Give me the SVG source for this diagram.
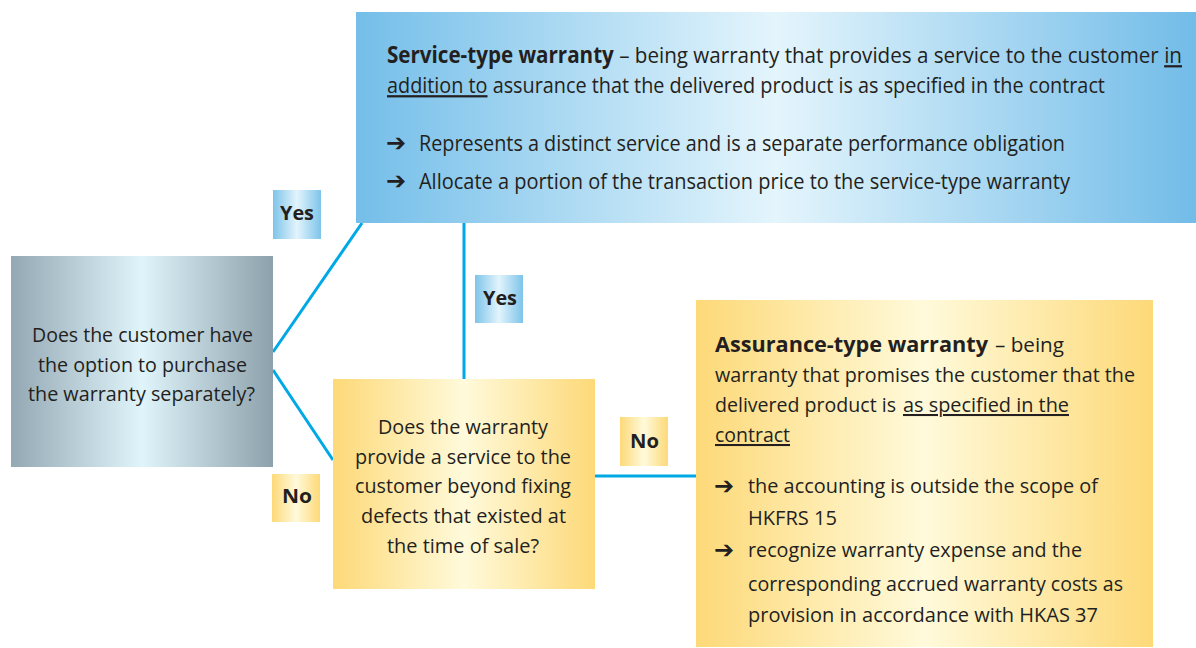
<svg xmlns="http://www.w3.org/2000/svg" width="1196" height="648" viewBox="0 0 1196 648">
<defs>
<linearGradient id="gGrey" x1="0" y1="0" x2="1" y2="0">
<stop offset="0" stop-color="#93a8b3"/>
<stop offset="0.5" stop-color="#e0f4fb"/>
<stop offset="1" stop-color="#8da1ac"/>
</linearGradient>
<linearGradient id="gBlue" x1="0" y1="0" x2="1" y2="0">
<stop offset="0" stop-color="#74bee9"/>
<stop offset="0.5" stop-color="#e4f5fc"/>
<stop offset="1" stop-color="#72bce8"/>
</linearGradient>
<linearGradient id="gYellow" x1="0" y1="0" x2="1" y2="0">
<stop offset="0" stop-color="#fdd978"/>
<stop offset="0.5" stop-color="#fffadb"/>
<stop offset="1" stop-color="#fdd978"/>
</linearGradient>
<linearGradient id="gYes" x1="0" y1="0" x2="1" y2="0">
<stop offset="0" stop-color="#7ec4ea"/>
<stop offset="0.5" stop-color="#e2f4fc"/>
<stop offset="1" stop-color="#7ec4ea"/>
</linearGradient>
</defs>
<style>
text{font-family:"Open Sans","Liberation Sans",sans-serif;fill:#231f20;}
.t{font-size:20.5px;}
.c{font-size:22.5px;}
.b{font-weight:bold;}
.u{text-decoration:underline;}
.arr{font-family:"DejaVu Sans",sans-serif;font-size:24px;font-weight:bold;}
.lbl{font-size:20px;font-weight:bold;text-anchor:middle;}
.mid{text-anchor:middle;}
.conn{stroke:#00a9e6;stroke-width:3;fill:none;}
</style>
<rect width="1196" height="648" fill="#ffffff"/>

<g id="connectors">
<line class="conn" x1="362" y1="223" x2="273" y2="352"/>
<line class="conn" x1="273" y1="370" x2="333" y2="460"/>
<line class="conn" x1="464" y1="223" x2="464" y2="379"/>
<line class="conn" x1="595" y1="476" x2="696" y2="476"/>
</g>

<g id="q1">
<rect x="11" y="256" width="262" height="211" fill="url(#gGrey)"/>
<text class="t mid" x="142.5" y="342" textLength="221" lengthAdjust="spacingAndGlyphs">Does the customer have</text>
<text class="t mid" x="142.5" y="372" textLength="209" lengthAdjust="spacingAndGlyphs">the option to purchase</text>
<text class="t mid" x="141.5" y="401" textLength="227" lengthAdjust="spacingAndGlyphs">the warranty separately?</text>
</g>

<g id="service">
<rect x="356" y="12" width="840" height="211" fill="url(#gBlue)"/>
<g transform="translate(387,0) scale(0.83,1)">
<text class="c" x="0" y="63" textLength="957.8" lengthAdjust="spacingAndGlyphs"><tspan class="b">Service-type warranty</tspan> – being warranty that provides a service to the customer <tspan class="u">in</tspan></text>
<text class="c" x="0" y="93" textLength="865" lengthAdjust="spacingAndGlyphs"><tspan class="u">addition to</tspan> assurance that the delivered product is as specified in the contract</text>
<text class="c" x="38.55" y="151" textLength="778.3" lengthAdjust="spacingAndGlyphs">Represents a distinct service and is a separate performance obligation</text>
<text class="c" x="38.55" y="189" textLength="784.3" lengthAdjust="spacingAndGlyphs">Allocate a portion of the transaction price to the service-type warranty</text>
</g>
<text class="arr" x="386" y="151">➔</text>
<text class="arr" x="386" y="189">➔</text>
</g>

<g id="q2">
<rect x="333" y="379" width="262" height="210" fill="url(#gYellow)"/>
<text class="t mid" x="463" y="434" textLength="170" lengthAdjust="spacingAndGlyphs">Does the warranty</text>
<text class="t mid" x="463" y="464" textLength="216" lengthAdjust="spacingAndGlyphs">provide a service to the</text>
<text class="t mid" x="463" y="493" textLength="216" lengthAdjust="spacingAndGlyphs">customer beyond fixing</text>
<text class="t mid" x="463.5" y="523" textLength="205" lengthAdjust="spacingAndGlyphs">defects that existed at</text>
<text class="t mid" x="463" y="553" textLength="152" lengthAdjust="spacingAndGlyphs">the time of sale?</text>
</g>

<g id="assurance">
<rect x="696" y="300" width="457" height="347" fill="url(#gYellow)"/>
<text class="t b" x="715" y="352" textLength="273" lengthAdjust="spacingAndGlyphs">Assurance-type warranty</text>
<text class="t" x="995" y="352" textLength="69" lengthAdjust="spacingAndGlyphs">– being</text>
<text class="t" x="715" y="382" textLength="420" lengthAdjust="spacingAndGlyphs">warranty that promises the customer that the</text>
<text class="t" x="715" y="412" textLength="181" lengthAdjust="spacingAndGlyphs">delivered product is</text>
<text class="t u" x="903" y="412" textLength="166" lengthAdjust="spacingAndGlyphs">as specified in the</text>
<text class="t u" x="715" y="442" textLength="75" lengthAdjust="spacingAndGlyphs">contract</text>
<text class="arr" x="714" y="494">➔</text>
<text class="t" x="748" y="493" textLength="350" lengthAdjust="spacingAndGlyphs">the accounting is outside the scope of</text>
<text class="t" x="748" y="525" textLength="89" lengthAdjust="spacingAndGlyphs">HKFRS 15</text>
<text class="arr" x="714" y="558">➔</text>
<text class="t" x="748" y="557" textLength="334" lengthAdjust="spacingAndGlyphs">recognize warranty expense and the</text>
<text class="t" x="748" y="591" textLength="375" lengthAdjust="spacingAndGlyphs">corresponding accrued warranty costs as</text>
<text class="t" x="748" y="622" textLength="350" lengthAdjust="spacingAndGlyphs">provision in accordance with HKAS 37</text>
</g>

<g id="yes1">
<rect x="273" y="190" width="48" height="49" fill="url(#gYes)"/>
<text class="lbl" x="297" y="220" textLength="34" lengthAdjust="spacingAndGlyphs">Yes</text>
</g>
<g id="yes2">
<rect x="475" y="275" width="48" height="48" fill="url(#gYes)"/>
<text class="lbl" x="500" y="305" textLength="34" lengthAdjust="spacingAndGlyphs">Yes</text>
</g>
<g id="no1">
<rect x="272" y="474" width="48" height="48" fill="url(#gYellow)"/>
<text class="lbl" x="297" y="503" textLength="30" lengthAdjust="spacingAndGlyphs">No</text>
</g>
<g id="no2">
<rect x="620" y="417" width="48" height="49" fill="url(#gYellow)"/>
<text class="lbl" x="644.5" y="448" textLength="29" lengthAdjust="spacingAndGlyphs">No</text>
</g>
</svg>
